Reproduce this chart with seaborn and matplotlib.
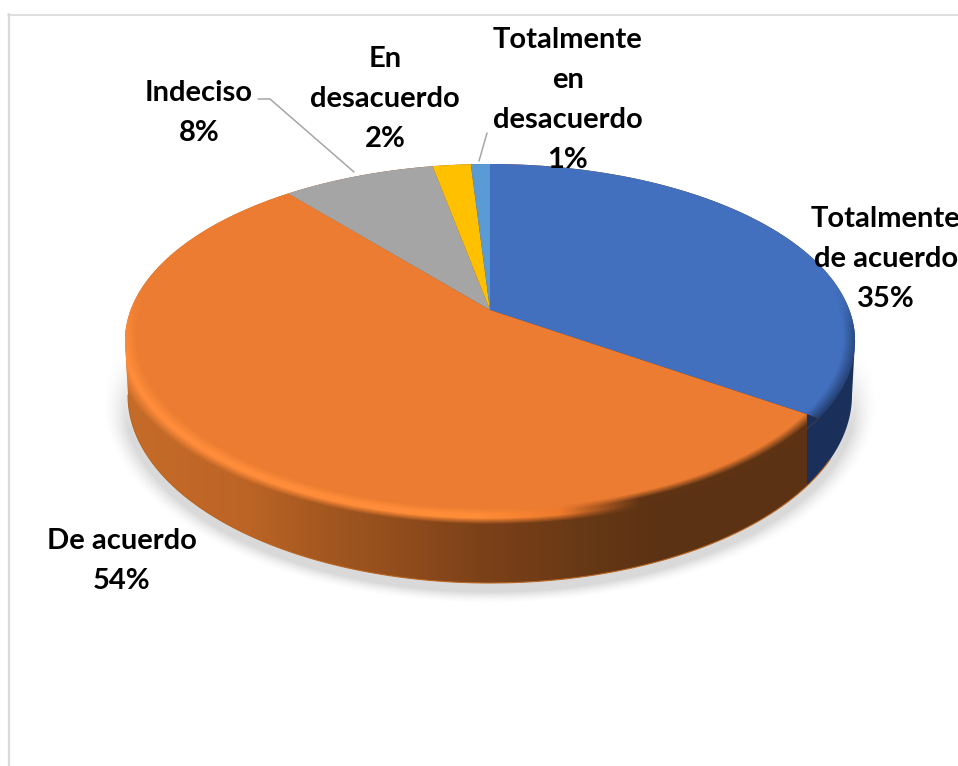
import numpy as np
import matplotlib
matplotlib.use("Agg")
import matplotlib.pyplot as plt
import matplotlib.transforms as mtransforms
from matplotlib.patches import Polygon
import seaborn as sns

# datos
categorias = ["Totalmente\nde acuerdo", "De acuerdo", "Indeciso", "En\ndesacuerdo", "Totalmente\nen\ndesacuerdo"]
porcentajes = [34.6, 54.4, 8, 2, 1]
colores_hex = ["#4270BF", "#EB7C31", "#A5A5A5", "#FFC000", "#5B9BD5"]

W, H = 958, 766
sns.set_theme(style="white")
plt.rcParams["font.family"] = ["Lato", "DejaVu Sans"]

# perspectiva: circulo unidad -> elipse superior del pastel, en pixeles
CX, CY, K = 490, 310, 0.1752
AX_X, AX_Y = 359.4, 171.6


class Perspectiva(mtransforms.Transform):
    input_dims = 2
    output_dims = 2
    is_separable = False
    has_inverse = False

    def transform_non_affine(self, values):
        values = np.asarray(values, dtype=float)
        u, v = values[:, 0], values[:, 1]
        w = 1 + K * v
        return np.column_stack([CX + AX_X * u / w, CY - AX_Y * v / w])


def ellipse(cx, cy, rx, ry, t):
    return np.column_stack([cx + rx * np.cos(t), cy + ry * np.sin(t)])


fig = plt.figure(figsize=(W / 100, H / 100), dpi=100, facecolor="white")
ax = fig.add_axes([0, 0, 1, 1])

# el pastel en si
colores = sns.color_palette(colores_hex)
wedges, _ = ax.pie(porcentajes, startangle=90, counterclock=False, colors=colores,
                   wedgeprops={"linewidth": 0}, normalize=True)
persp = Perspectiva()
for w in wedges:
    w.set_transform(persp + ax.transData)
    w.set_zorder(2)

X, Y = np.meshgrid(np.arange(W) + 0.5, np.arange(H) + 0.5)
extent = (0, W, H, 0)

# esquina azul / naranja, separa las dos partes de la pared
th = np.deg2rad(wedges[0].theta1)
esquina_x = persp.transform_non_affine(np.array([[np.cos(th), np.sin(th)]]))[0, 0] - 12

# sombra
r = np.sqrt(((X - 490) / 366) ** 2 + ((Y - 400) / 192) ** 2)
a_sombra = np.clip((1.06 - r) / 0.06, 0, 1) ** 1.6 * np.clip((Y - 350) / 80, 0, 1) * 0.27
sombra = np.dstack([np.full_like(X, 0.45)] * 3 + [a_sombra])
ax.imshow(sombra, extent=extent, zorder=0.2, interpolation="bilinear")

# pared lateral
sup = ellipse(490, 341, 365, 177, np.linspace(np.pi, 2 * np.pi, 200))
inf = ellipse(490, 395, 362, 188, np.linspace(0, np.pi, 200))
contorno = Polygon(np.vstack([sup, inf]), closed=True, transform=ax.transData)
xs = [125, 250, 320, 480, 600, 660, 958]
rs = [198, 188, 165, 125, 100, 92, 92]
gs = [108, 100, 88, 65, 55, 50, 50]
bs = [42, 38, 32, 25, 20, 20, 20]
pared = np.dstack([np.interp(X, xs, rs), np.interp(X, xs, gs), np.interp(X, xs, bs)]) / 255
pared[X > esquina_x] = np.array([26, 47, 90]) / 255
im = ax.imshow(pared, extent=extent, zorder=0.5, interpolation="nearest")
im.set_clip_path(contorno)
borde = ellipse(490, 395, 362, 188, np.linspace(0.35, np.pi, 200))
ax.plot(borde[:, 0], borde[:, 1], color="#B8641F", lw=0.8, zorder=0.6)

# la punta del sector naranja no pasa de la esquina
punta = np.dstack([np.full_like(X, 26 / 255), np.full_like(X, 47 / 255),
                   np.full_like(X, 90 / 255), (X > esquina_x).astype(float)])
im = ax.imshow(punta, extent=extent, zorder=2.5, interpolation="nearest")
im.set_clip_path(wedges[1])

# bisel: sube dentro de la cara y baja suave sobre la pared
r_in = np.sqrt(((X - 490) / 353) ** 2 + ((Y - 336) / 172) ** 2)
r_out = np.sqrt(((X - 490) / 365) ** 2 + ((Y - 341) / 177) ** 2)
a_bisel = np.clip((r_in - 1) / 0.035, 0, 1) * np.clip((1.035 - r_out) / 0.035, 0, 1)
a_bisel = a_bisel * np.clip((Y - 285) / 50, 0, 1) * (X < esquina_x)
xb = [125, 480, 560, 640, 958]
bisel = np.dstack([np.interp(X, xb, [255, 255, 238, 95, 92]),
                   np.interp(X, xb, [140, 140, 122, 52, 50]),
                   np.interp(X, xb, [60, 55, 45, 20, 20]), np.zeros_like(X)]) / 255
bisel[..., 3] = a_bisel
im = ax.imshow(bisel, extent=extent, zorder=3, interpolation="bilinear")
im.set_clip_path(contorno)

a_azul = np.clip((r_in - 1) / 0.05, 0, 1) * np.clip((Y - 290) / 40, 0, 1)
bisel_azul = np.dstack([np.full_like(X, 30 / 255), np.full_like(X, 55 / 255),
                        np.full_like(X, 100 / 255), a_azul])
im = ax.imshow(bisel_azul, extent=extent, zorder=3, interpolation="bilinear")
im.set_clip_path(wedges[0])

# marco del grafico
ax.plot([9, 9], [14, H], color="#D9D9D9", lw=1.6, zorder=1)
ax.plot([8, W], [14.5, 14.5], color="#D9D9D9", lw=1.2, zorder=1)

# lineas guia
ax.plot([258, 270, 354], [99, 99, 172], color="#A6A6A6", lw=1.1, zorder=4)
ax.plot([487, 479], [133, 161], color="#A6A6A6", lw=1.1, zorder=4)

# etiquetas
pos_x = [886, 122, 199, 385, 568]
pos_y = [259, 561, 113, 99, 100]
for nombre, pct, x, y in zip(categorias, porcentajes, pos_x, pos_y):
    ax.text(x, y, f"{nombre}\n{round(pct)}%", ha="center", va="center", fontsize=21,
            fontweight="bold", color="black", linespacing=1.66, zorder=5, clip_on=False)

ax.set_aspect("auto")
ax.set_xlim(0, W)
ax.set_ylim(H, 0)
ax.axis("off")
fig.savefig("out.png", dpi=100)
